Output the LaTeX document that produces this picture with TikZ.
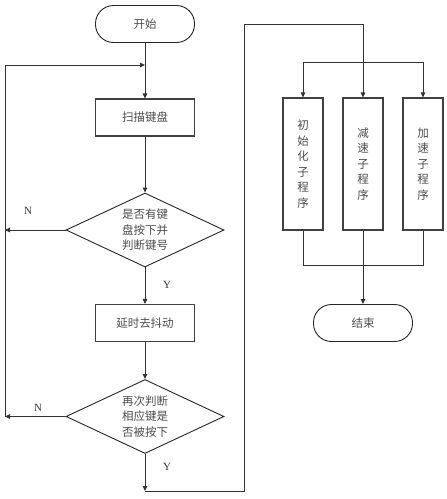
\documentclass[tikz,border=0pt]{standalone}
\usepackage{fontspec}
\setmainfont{Liberation Serif}
\newfontfamily\cjk{Noto Sans CJK SC}
\usetikzlibrary{arrows.meta,shapes.geometric}
\begin{document}
\begin{tikzpicture}[x=1pt,y=-1pt,
  ln/.style={draw=black!80,line width=0.9pt},
  arr/.style={ln,-{Triangle[length=5pt,width=4.5pt]}},
  box/.style={draw=black!75,line width=1.1pt,rectangle,minimum width=99pt,minimum height=37pt,inner sep=0pt},
  vbox/.style={draw=black!75,line width=1.1pt,rectangle,minimum width=40pt,minimum height=132pt,inner sep=0pt},
  term/.style={draw=black!85,line width=0.9pt,rectangle,rounded corners=18pt,minimum width=99pt,minimum height=37pt,inner sep=0pt},
  dia/.style={draw=black!85,line width=0.9pt,diamond,minimum width=158pt,minimum height=74pt,inner sep=0pt},
  txt/.style={font=\cjk\fontsize{11.5}{15.5}\selectfont,text=black!70,align=center},
  lbl/.style={font=\fontsize{11}{12}\selectfont,text=black!80}]
\useasboundingbox (0,0) rectangle (447,499);
% left column
\node[term] (start) at (145,24) {};
\node[txt] at (start) {开始};
\node[box] (scan) at (145,117.5) {};
\node[txt] at (scan) {扫描键盘};
\node[dia] (d1) at (145,230) {};
\node[txt] at (d1) {是否有键\\盘按下并\\判断键号};
\node[box] (delay) at (145,323) {};
\node[txt] at (delay) {延时去抖动};
\node[dia] (d2) at (145,416.5) {};
\node[txt] at (d2) {再次判断\\相应键是\\否被按下};
% loop coordinates
\coordinate (lt) at (5,65);
\coordinate (lm) at (5,230);
\coordinate (lb) at (5,416.5);
\coordinate (merge) at (145,65);
\coordinate (bot) at (145,491);
\coordinate (br) at (244,491);
\coordinate (tr) at (244,24);
\coordinate (tm) at (363,24);
% right column
\node[vbox] (init) at (303,164) {};
\node[txt] at (init) {初\\始\\化\\子\\程\\序};
\node[vbox] (dec) at (363,164) {};
\node[txt] at (dec) {减\\速\\子\\程\\序};
\node[vbox] (acc) at (423,164) {};
\node[txt] at (acc) {加\\速\\子\\程\\序};
\node[term] (end) at (363,323) {};
\node[txt] at (end) {结束};
\coordinate (splitL) at (303,62);
\coordinate (splitR) at (423,62);
\coordinate (joinL) at (303,265);
\coordinate (joinR) at (423,265);
\coordinate (joinM) at (363,265);
% connectors
\draw[arr] (start) -- (scan);
\draw[arr] (scan) -- (d1);
\draw[arr] (d1) -- (delay);
\draw[arr] (delay) -- (d2);
\draw[arr] (d1.west) -- (lm);
\draw[arr] (d2.west) -- (lb);
\draw[arr] (lb) -- (lt) -- (merge);
\node[lbl] at (28,211) {N};
\node[lbl] at (38,408) {N};
\node[lbl] at (167,285) {Y};
\node[lbl] at (167,467) {Y};
\draw[arr] (d2.south) -- (bot);
\draw[arr] (bot) -- (br) -- (tr) -- (tm) -- (dec.north);
\draw[ln] (splitL) -- (splitR);
\draw[arr] (splitL) -- (init.north);
\draw[arr] (splitR) -- (acc.north);
\draw[ln] (init.south) -- (joinL) -- (joinR) -- (acc.south);
\draw[arr] (dec.south) -- (end.north);
\end{tikzpicture}
\end{document}
